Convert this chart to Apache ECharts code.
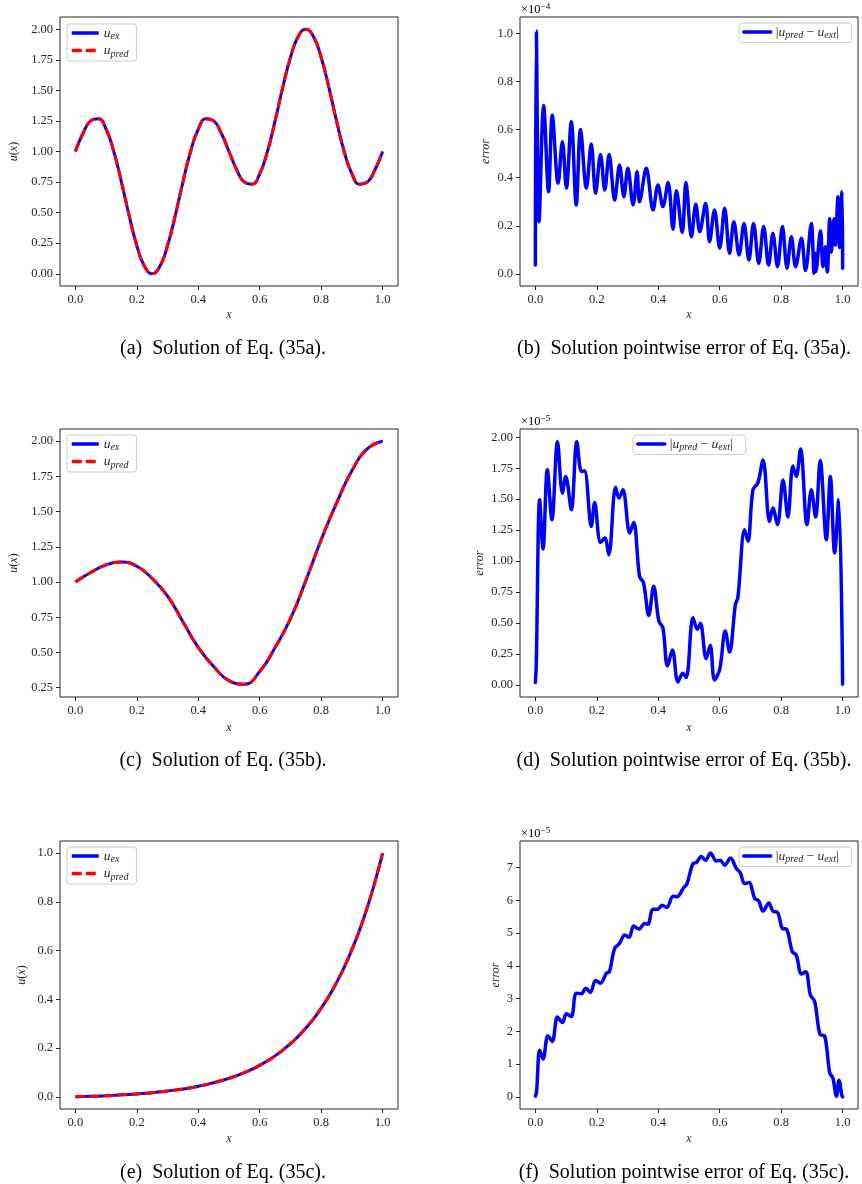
<!DOCTYPE html>
<html>
<head>
<meta charset="utf-8">
<script src="https://cdn.jsdelivr.net/npm/echarts@6/dist/echarts.min.js"></script>
<style>
  html, body { margin: 0; padding: 0; background: #fff; }
  #chart { width: 862px; height: 1184px; }
</style>
</head>
<body>
<div id="chart"></div>
<script>
// ---- 数据 ----
const xTicks = [0, 0.2, 0.4, 0.6, 0.8, 1.0]
const yTicksA = [0, 0.25, 0.5, 0.75, 1, 1.25, 1.5, 1.75, 2]
const yTicksB = [0, 0.2, 0.4, 0.6, 0.8, 1.0]
const yTicksC = [0.25, 0.5, 0.75, 1, 1.25, 1.5, 1.75, 2]
const yTicksD = [0, 0.25, 0.5, 0.75, 1, 1.25, 1.5, 1.75, 2]
const yTicksE = [0, 0.2, 0.4, 0.6, 0.8, 1.0]
const yTicksF = [0, 1, 2, 3, 4, 5, 6, 7]

// (a) Eq. 35a
const xA = [0, 0.025, 0.05, 0.075, 0.1, 0.125, 0.15, 0.175, 0.2, 0.225, 0.25, 0.275, 0.3, 0.325, 0.35, 0.375, 0.4, 0.425, 0.45, 0.475,
  0.5, 0.525, 0.55, 0.575, 0.6, 0.625, 0.65, 0.675, 0.7, 0.725, 0.75, 0.775, 0.8, 0.825, 0.85, 0.875, 0.9, 0.925, 0.95, 0.975, 1.0]
const uA = [1.000, 1.149, 1.250, 1.267, 1.182, 1.000, 0.750, 0.476, 0.231, 0.061, 0.000, 0.061, 0.231, 0.476, 0.750, 1.000, 1.182, 1.267, 1.250, 1.149,
  1.000, 0.851, 0.750, 0.733, 0.818, 1.000, 1.250, 1.524, 1.769, 1.939, 2.000, 1.939, 1.769, 1.524, 1.250, 1.000, 0.818, 0.733, 0.750, 0.851, 1.000]

// (b) error of Eq. 35a, x1e-4
const xB = [0, 0.003, 0.012, 0.027, 0.043, 0.055, 0.074, 0.088, 0.101, 0.117, 0.133, 0.147, 0.166, 0.182, 0.196, 0.212, 0.226, 0.240,
  0.258, 0.274, 0.288, 0.301, 0.318, 0.331, 0.339, 0.361, 0.383, 0.399, 0.415, 0.432, 0.448, 0.459, 0.478, 0.490, 0.508, 0.522,
  0.535, 0.554, 0.567, 0.583, 0.600, 0.616, 0.632, 0.646, 0.663, 0.679, 0.695, 0.710, 0.727, 0.743, 0.759, 0.773, 0.788, 0.804,
  0.819, 0.833, 0.847, 0.866, 0.879, 0.898, 0.907, 0.910, 0.913, 0.928, 0.936, 0.944, 0.950, 0.958, 0.963, 0.972, 0.976, 0.985,
  0.990, 0.998, 1.0]
const eB = [0.037, 1.01, 0.217, 0.70, 0.342, 0.66, 0.377, 0.55, 0.357, 0.633, 0.287, 0.60, 0.357, 0.54, 0.335, 0.497, 0.349, 0.497,
  0.307, 0.453, 0.321, 0.439, 0.287, 0.425, 0.30, 0.439, 0.266, 0.37, 0.28, 0.38, 0.186, 0.346, 0.172, 0.38, 0.155, 0.29,
  0.176, 0.293, 0.134, 0.266, 0.107, 0.273, 0.086, 0.217, 0.079, 0.21, 0.058, 0.21, 0.044, 0.197, 0.037, 0.169, 0.03, 0.197,
  0.024, 0.155, 0.03, 0.148, 0.014, 0.21, 0.003, 0.086, 0.01, 0.18, 0.03, 0.113, 0.008, 0.231, 0.09, 0.23, 0.12, 0.321,
  0.11, 0.342, 0.024]

// (c) Eq. 35b
const xC = [0, 0.05, 0.1, 0.15, 0.2, 0.25, 0.3, 0.35, 0.4, 0.45, 0.5, 0.55, 0.6, 0.65, 0.7, 0.75, 0.8, 0.85, 0.9, 0.95, 1.0]
const uC = [1.000, 1.068, 1.122, 1.142, 1.112, 1.025, 0.900, 0.718, 0.536, 0.400, 0.300, 0.274, 0.365, 0.535, 0.740, 1.010, 1.300, 1.560, 1.790, 1.945, 2.000]

// (d) error of Eq. 35b, x1e-5
const xD = [0, 0.003, 0.014, 0.025, 0.039, 0.054, 0.072, 0.088, 0.099, 0.117, 0.135, 0.150, 0.160, 0.182, 0.193, 0.212, 0.226, 0.239,
  0.261, 0.272, 0.285, 0.307, 0.320, 0.339, 0.352, 0.369, 0.385, 0.402, 0.415, 0.430, 0.446, 0.464, 0.480, 0.491, 0.513, 0.527,
  0.537, 0.556, 0.569, 0.583, 0.600, 0.618, 0.632, 0.651, 0.659, 0.681, 0.692, 0.708, 0.724, 0.741, 0.762, 0.773, 0.788, 0.806,
  0.822, 0.838, 0.849, 0.863, 0.884, 0.898, 0.912, 0.927, 0.947, 0.960, 0.974, 0.987, 1.0]
const eD = [0.02, 0.167, 1.495, 1.098, 1.737, 1.334, 1.965, 1.549, 1.683, 1.415, 1.965, 1.723, 1.73, 1.28, 1.473, 1.151, 1.187, 1.052,
  1.597, 1.509, 1.576, 1.227, 1.312, 0.878, 0.824, 0.561, 0.797, 0.515, 0.462, 0.153, 0.282, 0.024, 0.094, 0.06, 0.543, 0.449,
  0.497, 0.212, 0.32, 0.04, 0.126, 0.435, 0.266, 0.65, 0.704, 1.254, 1.16, 1.576, 1.63, 1.817, 1.32, 1.428, 1.294, 1.656,
  1.356, 1.769, 1.683, 1.906, 1.294, 1.576, 1.356, 1.812, 1.173, 1.683, 1.066, 1.495, 0.006]

// (e) Eq. 35c
const xE = [0, 0.05, 0.1, 0.15, 0.2, 0.25, 0.3, 0.35, 0.4, 0.45, 0.5, 0.55, 0.6, 0.65, 0.7, 0.725, 0.75, 0.775, 0.8, 0.825,
  0.85, 0.875, 0.9, 0.925, 0.95, 0.975, 1.0]
const uE = [0, 0.002, 0.004, 0.008, 0.012, 0.017, 0.024, 0.032, 0.043, 0.058, 0.076, 0.099, 0.129, 0.168, 0.218, 0.248, 0.282, 0.320, 0.364, 0.413,
  0.469, 0.532, 0.604, 0.685, 0.777, 0.882, 1.000]

// (f) error of Eq. 35c, x1e-5
const xF = [0, 0.004, 0.014, 0.025, 0.041, 0.055, 0.072, 0.088, 0.101, 0.117, 0.133, 0.150, 0.164, 0.179, 0.196, 0.212, 0.231, 0.241,
  0.258, 0.274, 0.291, 0.305, 0.320, 0.337, 0.356, 0.366, 0.383, 0.399, 0.412, 0.428, 0.448, 0.461, 0.483, 0.493, 0.513, 0.524,
  0.540, 0.554, 0.570, 0.589, 0.602, 0.616, 0.635, 0.654, 0.667, 0.681, 0.695, 0.714, 0.727, 0.741, 0.760, 0.773, 0.789, 0.804,
  0.817, 0.836, 0.849, 0.866, 0.880, 0.895, 0.909, 0.927, 0.941, 0.958, 0.968, 0.980, 0.988, 0.998, 1.0]
const eF = [0.02, 0.16, 1.42, 1.156, 1.866, 1.69, 2.434, 2.27, 2.535, 2.45, 3.165, 3.145, 3.317, 3.19, 3.55, 3.47, 3.773, 3.82,
  4.534, 4.686, 4.939, 4.87, 5.213, 5.12, 5.295, 5.27, 5.73, 5.73, 5.85, 5.78, 6.126, 6.11, 6.39, 6.49, 7.12, 7.15,
  7.34, 7.22, 7.44, 7.2, 7.22, 7.07, 7.29, 6.97, 6.84, 6.51, 6.54, 6.06, 5.98, 5.67, 5.92, 5.67, 5.62, 5.14,
  5.12, 4.43, 4.33, 3.75, 3.82, 3.11, 2.91, 1.896, 1.866, 0.73, 0.58, 0.02, 0.505, 0.02, 0.0]

// ---- 样式 ----
const SERIF = "'Liberation Serif', 'Times New Roman', serif"
const INK = '#262626'
const BLUE = '#0000ff'
const RED = '#ff0000'

const panels = [
  { left: 60, top: 17, h: 269, ymin: -0.1, ymax: 2.1, ticks: yTicksA, dec: 2, yName: 'u', yGap: 38, xGap: 21 },
  { left: 520, top: 17, h: 269, ymin: -0.05, ymax: 1.068, ticks: yTicksB, dec: 1, yName: 'error', yGap: 26, xGap: 21 },
  { left: 60, top: 429, h: 268, ymin: 0.1835, ymax: 2.0865, ticks: yTicksC, dec: 2, yName: 'u', yGap: 38, xGap: 23 },
  { left: 520, top: 429, h: 268, ymin: -0.098, ymax: 2.067, ticks: yTicksD, dec: 2, yName: 'error', yGap: 32, xGap: 23 },
  { left: 60, top: 841, h: 268, ymin: -0.05, ymax: 1.05, ticks: yTicksE, dec: 1, yName: 'u', yGap: 30, xGap: 22 },
  { left: 520, top: 841, h: 268, ymin: -0.372, ymax: 7.81, ticks: yTicksF, dec: 0, yName: 'error', yGap: 16, xGap: 22 },
]

const mathRich = {
  i: { fontFamily: SERIF, fontStyle: 'italic', fontSize: 12, color: INK, lineHeight: 16 },
  n: { fontFamily: SERIF, fontSize: 12, color: INK, lineHeight: 16 },
  s: { fontFamily: SERIF, fontStyle: 'italic', fontSize: 8.5, color: INK, lineHeight: 8, verticalAlign: 'bottom' },
}
const legendRich = {
  i: { fontFamily: SERIF, fontStyle: 'italic', fontSize: 13.5, color: INK, lineHeight: 17 },
  n: { fontFamily: SERIF, fontSize: 13.5, color: INK, lineHeight: 17 },
  s: { fontFamily: SERIF, fontStyle: 'italic', fontSize: 10, color: INK, lineHeight: 9, verticalAlign: 'bottom' },
}

function pairs(xs, ys) {
  return xs.map((x, i) => [x, ys[i]])
}

const grid = [], xAxis = [], yAxis = []
panels.forEach((p, i) => {
  grid.push({
    left: p.left, top: p.top, width: 338, height: p.h,
    show: true, borderColor: INK, borderWidth: 1, backgroundColor: 'transparent',
    containLabel: false, outerBoundsMode: 'none',
  })
  xAxis.push({
    gridIndex: i, type: 'value', min: -0.05, max: 1.05,
    axisLine: { show: false, onZero: false }, splitLine: { show: false },
    axisTick: { show: true, inside: false, length: 4, customValues: xTicks, lineStyle: { color: INK, width: 1 } },
    axisLabel: { customValues: xTicks, formatter: v => v.toFixed(1), fontFamily: SERIF, fontSize: 12.5, color: INK, margin: 7 },
    name: '{i|x}', nameLocation: 'middle', nameGap: p.xGap,
    nameTextStyle: { rich: mathRich },
  })
  yAxis.push({
    gridIndex: i, type: 'value', min: p.ymin, max: p.ymax,
    axisLine: { show: false, onZero: false }, splitLine: { show: false },
    axisTick: { show: true, inside: false, length: 4, customValues: p.ticks, lineStyle: { color: INK, width: 1 } },
    axisLabel: { customValues: p.ticks, formatter: v => v.toFixed(p.dec), fontFamily: SERIF, fontSize: 12.5, color: INK, margin: 7 },
    name: p.yName === 'u' ? '{i|u}{n|(}{i|x}{n|)}' : '{i|error}',
    nameLocation: 'middle', nameGap: p.yGap, nameRotate: 90,
    nameTextStyle: { rich: mathRich },
  })
})

function solutionPair(tag, idx, xs, ys) {
  return [
    {
      name: 'uex_' + tag, type: 'line', xAxisIndex: idx, yAxisIndex: idx,
      data: pairs(xs, ys), symbol: 'none', smooth: true,
      lineStyle: { color: BLUE, width: 3 }, itemStyle: { color: BLUE }, z: 2,
    },
    {
      name: 'upred_' + tag, type: 'line', xAxisIndex: idx, yAxisIndex: idx,
      data: pairs(xs, ys), symbol: 'none', smooth: true,
      lineStyle: { color: RED, width: 3, type: [10, 4] }, itemStyle: { color: RED }, z: 3,
    },
  ]
}

function errorLine(tag, idx, xs, ys) {
  return {
    name: 'err_' + tag, type: 'line', xAxisIndex: idx, yAxisIndex: idx,
    data: pairs(xs, ys), symbol: 'none', smooth: 0.35,
    lineStyle: { color: BLUE, width: 3.5, cap: 'round', join: 'round' }, itemStyle: { color: BLUE },
  }
}

const series = [
  ...solutionPair('a', 0, xA, uA),
  errorLine('b', 1, xB, eB),
  ...solutionPair('c', 2, xC, uC),
  errorLine('d', 3, xD, eD),
  ...solutionPair('e', 4, xE, uE),
  errorLine('f', 5, xF, eF),
]

function legendText(name) {
  if (name.startsWith('uex')) return '{i|u}{s|ex}'
  if (name.startsWith('upred')) return '{i|u}{s|pred}'
  return '{n||}{i|u}{s|pred}{n| − }{i|u}{s|ext}{n||}'
}

function legendBox(names, left, top, padRight) {
  return {
    data: names, left, top, orient: 'vertical', selectedMode: false,
    itemWidth: 27, itemHeight: 10, itemGap: 2,
    padding: [2, padRight, 2, 3],
    borderColor: '#cccccc', borderWidth: 1, borderRadius: 3, backgroundColor: 'rgba(255,255,255,0.8)',
    itemStyle: { opacity: 0, color: 'transparent', borderWidth: 0 },
    lineStyle: { width: 3.5 },
    formatter: legendText,
    textStyle: { rich: legendRich },
  }
}

const legend = [
  legendBox(['uex_a', 'upred_a'], 67, 24, 8),
  legendBox(['err_b'], 739, 23, 13),
  legendBox(['uex_c', 'upred_c'], 67, 435, 8),
  legendBox(['err_d'], 633, 435, 13),
  legendBox(['uex_e', 'upred_e'], 67, 847, 8),
  legendBox(['err_f'], 739, 847, 13),
]

const supRich = {
  a: { fontFamily: SERIF, fontSize: 12.5, color: INK, lineHeight: 15 },
  b: { fontFamily: SERIF, fontSize: 9, color: INK, lineHeight: 8, verticalAlign: 'top' },
}
function exponent(x, y, p) {
  return {
    type: 'text', left: x, top: y,
    style: { text: '{a|×10}{b|−' + p + '}', rich: supRich },
  }
}

const capRich = {
  t: { fontFamily: SERIF, fontSize: 20, color: '#111' },
  c: { fontFamily: SERIF, fontSize: 20, color: '#3a6b68' },
}
function caption(cx, cy, lab, body, ref) {
  return {
    type: 'text', x: cx, y: cy,
    style: {
      text: '{t|(' + lab + ')  ' + body + ' (}{c|' + ref + '}{t|).}',
      rich: capRich, align: 'center', verticalAlign: 'middle',
    },
  }
}

const graphic = [
  exponent(521, 2, 4),
  exponent(521, 414, 5),
  exponent(521, 826, 5),
  caption(223, 349, 'a', 'Solution of Eq.', '35a'),
  caption(684, 349, 'b', 'Solution pointwise error of Eq.', '35a'),
  caption(223, 761, 'c', 'Solution of Eq.', '35b'),
  caption(684, 761, 'd', 'Solution pointwise error of Eq.', '35b'),
  caption(223, 1173, 'e', 'Solution of Eq.', '35c'),
  caption(684, 1173, 'f', 'Solution pointwise error of Eq.', '35c'),
]

const chart = echarts.init(document.getElementById('chart'), null, { renderer: 'canvas' })
chart.setOption({
  backgroundColor: '#ffffff',
  animation: false,
  grid, xAxis, yAxis, series, legend, graphic,
})
</script>
</body>
</html>
